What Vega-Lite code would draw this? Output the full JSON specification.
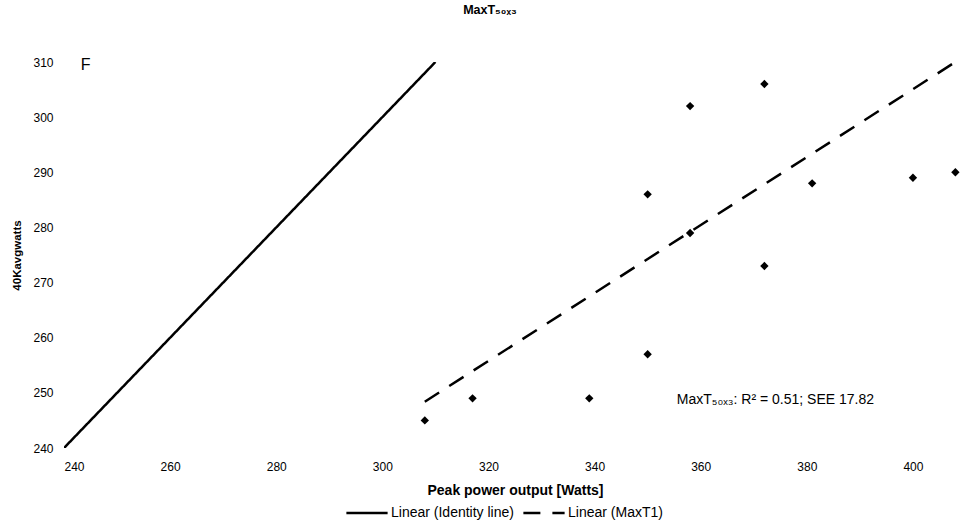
{
  "$schema": "https://vega.github.io/schema/vega-lite/v6.json",
  "autosize": {"type": "none"},
  "padding": {"left": 64, "top": 62, "right": 13, "bottom": 73},
  "width": 902,
  "height": 386,
  "background": "white",
  "title": {"text": "MaxT₅₀ₓ₃", "font": "Liberation Sans", "fontSize": 12.5, "fontWeight": "bold", "color": "#000", "anchor": "middle", "dx": -25, "offset": 40},
  "datasets": {
    "points": [
      {"power": 308, "watts": 245},
      {"power": 317, "watts": 249},
      {"power": 339, "watts": 249},
      {"power": 350, "watts": 257},
      {"power": 350, "watts": 286},
      {"power": 358, "watts": 302},
      {"power": 358, "watts": 279},
      {"power": 372, "watts": 306},
      {"power": 372, "watts": 273},
      {"power": 381, "watts": 288},
      {"power": 400, "watts": 289},
      {"power": 408, "watts": 290}
    ],
    "lines": [
      {"series": "Linear (Identity line)", "power": 240, "watts": 240},
      {"series": "Linear (Identity line)", "power": 310, "watts": 310},
      {"series": "Linear (MaxT1)", "power": 308, "watts": 248.4},
      {"series": "Linear (MaxT1)", "power": 408, "watts": 310}
    ]
  },
  "config": {
    "view": {"stroke": null},
    "font": "Liberation Sans",
    "axis": {"domain": false, "grid": false, "ticks": false, "tickSize": 0, "labelFont": "Liberation Sans", "labelFontSize": 12, "labelColor": "#000", "titleFont": "Liberation Sans", "titleFontSize": 14, "titleFontWeight": "bold", "titleColor": "#000"},
    "legend": {"labelFont": "Liberation Sans", "labelFontSize": 14, "labelColor": "#000", "padding": 0}
  },
  "layer": [
    {
      "data": {"name": "lines"},
      "mark": {"type": "line", "color": "#000", "strokeWidth": 2.5, "clip": true},
      "encoding": {
        "x": {"field": "power", "type": "quantitative", "scale": {"domain": [240, 410], "nice": false, "zero": false}, "axis": {"values": [240, 260, 280, 300, 320, 340, 360, 380, 400], "labelPadding": 13, "title": "Peak power output [Watts]", "titlePadding": 11}},
        "y": {"field": "watts", "type": "quantitative", "scale": {"domain": [240, 310], "nice": false, "zero": false}, "axis": {"values": [240, 250, 260, 270, 280, 290, 300, 310], "labelPadding": 11, "title": "40Kavgwatts", "titleFontSize": 11.5, "titlePadding": 10}},
        "strokeDash": {"field": "series", "type": "nominal", "scale": {"domain": ["Linear (Identity line)", "Linear (MaxT1)"], "range": [[1, 0], [17, 12]]}, "legend": {"title": null, "orient": "none", "legendX": 281, "legendY": 429, "direction": "horizontal", "symbolType": "stroke", "symbolStrokeWidth": 2.5, "symbolStrokeColor": "#000", "symbolSize": 1700, "columnPadding": 4, "labelOffset": 2}},
        "detail": {"field": "series"}
      }
    },
    {
      "data": {"name": "points"},
      "mark": {"type": "point", "shape": "diamond", "filled": true, "color": "#000", "size": 70, "opacity": 1},
      "encoding": {
        "x": {"field": "power", "type": "quantitative"},
        "y": {"field": "watts", "type": "quantitative"}
      }
    },
    {
      "data": {"values": [{}]},
      "mark": {"type": "text", "fontSize": 16, "color": "#000", "align": "center", "baseline": "middle", "font": "Liberation Sans"},
      "encoding": {
        "x": {"datum": 244.1},
        "y": {"datum": 309.4},
        "text": {"value": "F"}
      }
    },
    {
      "data": {"values": [{}]},
      "mark": {"type": "text", "fontSize": 14, "color": "#000", "align": "left", "baseline": "middle", "font": "Liberation Sans"},
      "encoding": {
        "x": {"datum": 355.5},
        "y": {"datum": 248.7},
        "text": {"value": "MaxT₅₀ₓ₃: R² = 0.51; SEE 17.82"}
      }
    }
  ]
}
